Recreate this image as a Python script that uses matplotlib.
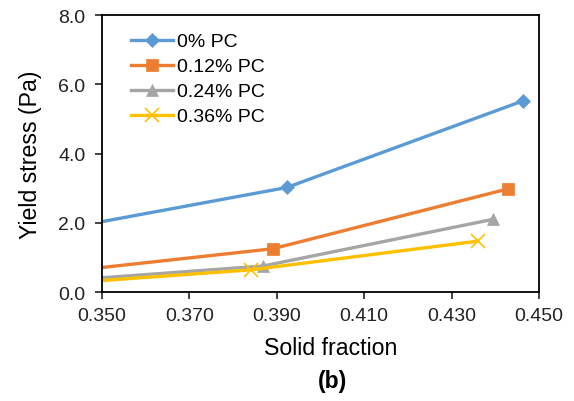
import matplotlib
matplotlib.use("Agg")
import matplotlib.pyplot as plt
from matplotlib.ticker import FormatStrFormatter

plt.rcParams['font.family'] = ['Liberation Sans', 'DejaVu Sans']

series_names = ["0% PC", "0.12% PC", "0.24% PC", "0.36% PC"]
x_0 = [0.340, 0.3923, 0.4463]
y_0 = [1.80, 3.02, 5.52]
x_12 = [0.340, 0.3891, 0.4429]
y_12 = [0.57, 1.25, 2.98]
x_24 = [0.340, 0.3868, 0.4395]
y_24 = [0.32, 0.75, 2.10]
x_36 = [0.340, 0.3841, 0.4360]
y_36 = [0.24, 0.64, 1.47]

colors = ["#5B9BD5", "#ED7D31", "#A5A5A5", "#FFC000"]
markers = ["D", "s", "^", "x"]
msizes = [7, 9, 9, 10]

fig = plt.figure(figsize=(5.74, 4.02), dpi=100)
ax = fig.add_axes([0.1777, 0.2711, 0.939 - 0.1777, 0.960 - 0.2711])

for xs, ys, name, c, m, ms in zip([x_0, x_12, x_24, x_36], [y_0, y_12, y_24, y_36],
                                  series_names, colors, markers, msizes):
    ax.plot(xs, ys, color=c, lw=2.4, marker=m, markersize=ms, label=name,
            markeredgewidth=1.2 if m == "x" else 0.5, markeredgecolor=c)

ax.set_xlim(0.350, 0.450)
ax.set_ylim(0, 8)
ax.set_xticks([0.350, 0.370, 0.390, 0.410, 0.430, 0.450])
ax.set_yticks([0, 2, 4, 6, 8])
ax.xaxis.set_major_formatter(FormatStrFormatter('%.3f'))
ax.yaxis.set_major_formatter(FormatStrFormatter('%.1f'))
ax.tick_params(axis='both', labelsize=14, direction='out', length=5, width=1.2, colors='#222222')
ax.tick_params(axis='x', pad=6)
ax.tick_params(axis='y', pad=7)
for s in ax.spines.values():
    s.set_linewidth(1.3)
    s.set_color('black')

ax.set_xlabel("Solid fraction", fontsize=16.7, labelpad=8)
ax.xaxis.set_label_coords(0.523, -0.16)
ax.set_ylabel("Yield stress (Pa)", fontsize=16.7, labelpad=8)
ax.yaxis.set_label_coords(-0.138, 0.5)

ax.legend(loc='upper left', bbox_to_anchor=(0.035, 0.985), frameon=False, fontsize=14,
          handlelength=2.15, handletextpad=0.2, labelspacing=0.38, borderaxespad=0.3)

fig.text(0.58, 0.052, "(b)", fontsize=16.5, fontweight='bold', ha='center', va='center')

fig.savefig("out.png", dpi=100)
